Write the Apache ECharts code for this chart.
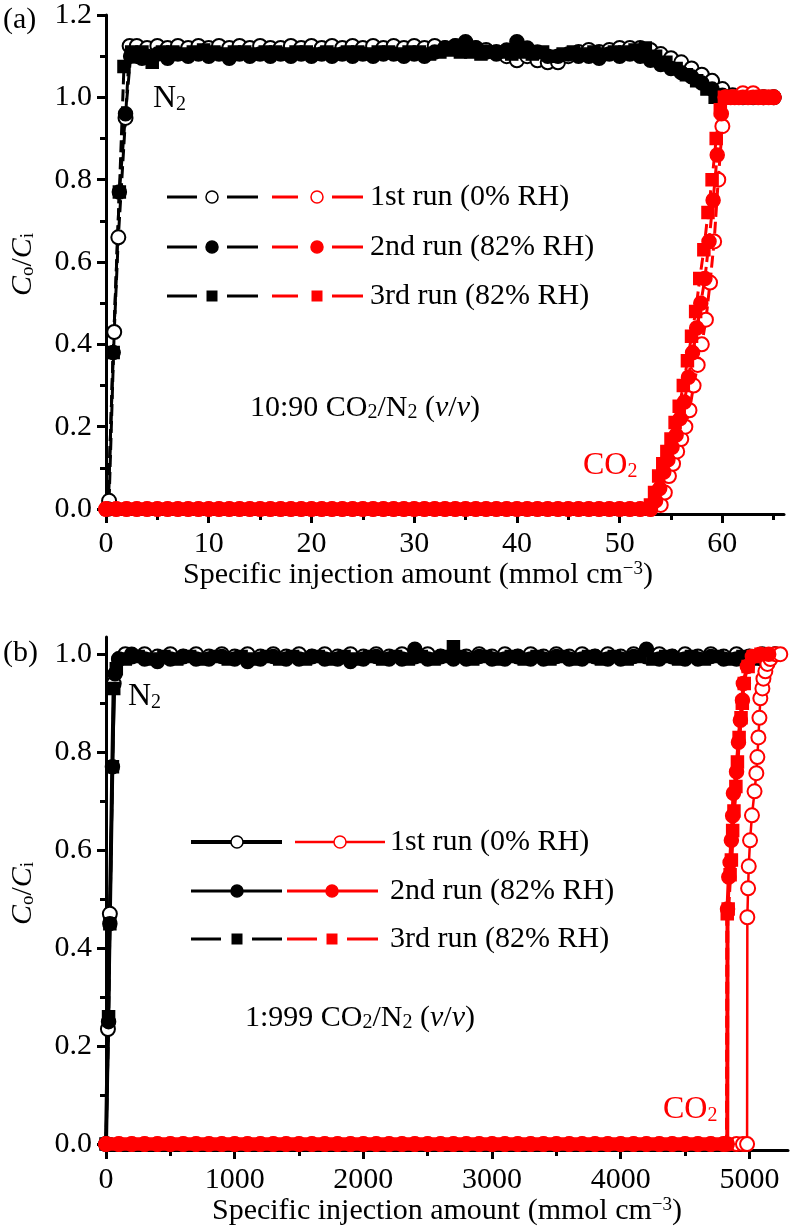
<!DOCTYPE html>
<html><head><meta charset="utf-8">
<script src="https://cdn.jsdelivr.net/npm/echarts@6/dist/echarts.min.js"></script>
<style>html,body{margin:0;padding:0;background:#fff}#c{width:794px;height:1232px}</style>
</head><body><div id="c"></div>
<script>
// ---------- Tick values ----------
const xTicksA = [0, 10, 20, 30, 40, 50, 60];
const xMinorA = [5, 15, 25, 35, 45, 55, 65];
const yTicksA = [0, 0.2, 0.4, 0.6, 0.8, 1.0, 1.2];
const yMinorA = [0.1, 0.3, 0.5, 0.7, 0.9, 1.1];
const xTicksB = [0, 1000, 2000, 3000, 4000, 5000];
const xMinorB = [500, 1500, 2500, 3500, 4500];
const yTicksB = [0, 0.2, 0.4, 0.6, 0.8, 1.0];
const yMinorB = [0.1, 0.3, 0.5, 0.7, 0.9];

const legendLabels = ['1st run (0% RH)', '2nd run (82% RH)', '3rd run (82% RH)'];

// ---------- Panel (a): 10:90 CO2/N2 ----------
const aN2run1 = [[0.3,0.02],[0.8,0.43],[1.2,0.66],[1.9,0.95],[2.3,1.125],[3,1.125],[4,1.12],[5,1.125],[6,1.12],[7,1.125],[8,1.12],[9,1.125],[10,1.12],[11,1.125],[12,1.12],[13,1.125],[14,1.12],[15,1.125],[16,1.12],[17,1.12],[18,1.125],[19,1.12],[20,1.125],[21,1.12],[22,1.125],[23,1.12],[24,1.125],[25,1.12],[26,1.125],[27,1.12],[28,1.125],[29,1.12],[30,1.125],[31,1.12],[32,1.125],[33,1.12],[34,1.125],[35,1.12],[36,1.12],[37,1.115],[38,1.11],[39,1.10],[40,1.09],[41,1.10],[42,1.09],[43,1.085],[44,1.085],[45,1.10],[46,1.11],[47,1.115],[48,1.11],[49,1.115],[50,1.12],[51,1.12],[52,1.12],[53,1.115],[54,1.105],[55,1.095],[56,1.085],[57,1.07],[58,1.055],[59,1.04],[60,1.02],[61,1.005],[62,1.0],[63,1.0],[64,1.0],[65,1.0]];
const aN2run2 = [[0.2,0],[0.7,0.38],[1.3,0.77],[1.9,0.96],[2.4,1.10],[3,1.10],[3.5,1.095],[4,1.10],[5,1.105],[6,1.095],[7,1.105],[8,1.10],[9,1.105],[10,1.10],[11,1.105],[12,1.095],[13,1.105],[14,1.10],[15,1.105],[16,1.10],[17,1.105],[18,1.10],[19,1.105],[20,1.10],[21,1.105],[22,1.10],[23,1.105],[24,1.10],[25,1.105],[26,1.10],[27,1.105],[28,1.105],[29,1.10],[30,1.105],[31,1.10],[32,1.11],[33,1.12],[34,1.125],[35,1.135],[36,1.12],[37,1.11],[38,1.105],[39,1.115],[40,1.135],[41,1.12],[42,1.11],[43,1.10],[44,1.10],[45,1.105],[46,1.10],[47,1.10],[48,1.095],[49,1.105],[50,1.10],[51,1.105],[52,1.10],[53,1.09],[54,1.08],[55,1.07],[56,1.06],[57,1.05],[58,1.035],[59,1.02],[60,1.005],[61,1.0],[62,1.0],[63,1.0],[64,1.0],[65,1.0]];
const aN2run3 = [[0.2,0],[0.7,0.38],[1.3,0.77],[1.75,1.075],[2.5,1.11],[3.5,1.11],[4.5,1.085],[5.5,1.11],[6.5,1.11],[7.5,1.105],[8.5,1.11],[9.5,1.115],[10.5,1.11],[11.5,1.105],[12.5,1.11],[13.5,1.11],[14.5,1.105],[15.5,1.11],[16.5,1.11],[17.5,1.105],[18.5,1.11],[19.5,1.11],[20.5,1.105],[21.5,1.11],[22.5,1.105],[23.5,1.11],[24.5,1.11],[25.5,1.105],[26.5,1.11],[27.5,1.11],[28.5,1.105],[29.5,1.11],[30.5,1.11],[31.5,1.105],[32.5,1.11],[33.5,1.115],[34.5,1.11],[35.5,1.11],[36.5,1.105],[37.5,1.11],[38.5,1.11],[39.5,1.105],[40.5,1.11],[41.5,1.105],[42.5,1.11],[43.5,1.10],[44.5,1.105],[45.5,1.11],[46.5,1.105],[47.5,1.11],[48.5,1.105],[49.5,1.11],[50.5,1.11],[51.5,1.115],[52.5,1.12],[53.5,1.10],[54.5,1.085],[55.5,1.07],[56.5,1.055],[57.5,1.04],[58.5,1.02],[59.3,1.0],[60.5,1.0],[61.5,1.0],[62.5,1.0],[63.5,1.0],[64.5,1.0]];
const aCO2run1 = [[0,0],[1,0],[2,0],[3,0],[4,0],[5,0],[6,0],[7,0],[8,0],[9,0],[10,0],[11,0],[12,0],[13,0],[14,0],[15,0],[16,0],[17,0],[18,0],[19,0],[20,0],[21,0],[22,0],[23,0],[24,0],[25,0],[26,0],[27,0],[28,0],[29,0],[30,0],[31,0],[32,0],[33,0],[34,0],[35,0],[36,0],[37,0],[38,0],[39,0],[40,0],[41,0],[42,0],[43,0],[44,0],[45,0],[46,0],[47,0],[48,0],[49,0],[50,0],[51,0],[52,0],[53,0],[54.0,0.01],[54.4,0.04],[54.8,0.08],[55.2,0.11],[55.6,0.14],[56.0,0.17],[56.4,0.20],[56.8,0.24],[57.2,0.30],[57.6,0.35],[58.0,0.40],[58.4,0.46],[58.8,0.55],[59.2,0.65],[59.6,0.80],[60.0,0.93],[60.3,1.0],[60.8,1.0],[61.2,1.0],[61.6,1.0],[62,1.01],[62.5,1.0],[63,1.01],[63.5,1.0],[64,1.0],[64.5,1.0],[65,1.0]];
const aCO2run2 = [[0,0],[1,0],[2,0],[3,0],[4,0],[5,0],[6,0],[7,0],[8,0],[9,0],[10,0],[11,0],[12,0],[13,0],[14,0],[15,0],[16,0],[17,0],[18,0],[19,0],[20,0],[21,0],[22,0],[23,0],[24,0],[25,0],[26,0],[27,0],[28,0],[29,0],[30,0],[31,0],[32,0],[33,0],[34,0],[35,0],[36,0],[37,0],[38,0],[39,0],[40,0],[41,0],[42,0],[43,0],[44,0],[45,0],[46,0],[47,0],[48,0],[49,0],[50,0],[51,0],[52,0],[53,0],[53.5,0.02],[53.9,0.05],[54.3,0.09],[54.7,0.12],[55.1,0.15],[55.5,0.18],[55.9,0.22],[56.3,0.26],[56.7,0.32],[57.1,0.38],[57.5,0.44],[57.9,0.50],[58.3,0.56],[58.7,0.65],[59.1,0.75],[59.5,0.86],[59.9,0.96],[60.3,1.0],[61,1.0],[62,1.0],[63,1.0],[64,1.0],[65,1.0]];
const aCO2run3 = [[0.5,0],[1.5,0],[2.5,0],[3.5,0],[4.5,0],[5.5,0],[6.5,0],[7.5,0],[8.5,0],[9.5,0],[10.5,0],[11.5,0],[12.5,0],[13.5,0],[14.5,0],[15.5,0],[16.5,0],[17.5,0],[18.5,0],[19.5,0],[20.5,0],[21.5,0],[22.5,0],[23.5,0],[24.5,0],[25.5,0],[26.5,0],[27.5,0],[28.5,0],[29.5,0],[30.5,0],[31.5,0],[32.5,0],[33.5,0],[34.5,0],[35.5,0],[36.5,0],[37.5,0],[38.5,0],[39.5,0],[40.5,0],[41.5,0],[42.5,0],[43.5,0],[44.5,0],[45.5,0],[46.5,0],[47.5,0],[48.5,0],[49.5,0],[50.5,0],[51.5,0],[52.5,0],[53.0,0.01],[53.4,0.04],[53.8,0.08],[54.2,0.11],[54.6,0.14],[55.0,0.17],[55.4,0.21],[55.8,0.25],[56.2,0.30],[56.6,0.36],[57.0,0.42],[57.4,0.48],[57.8,0.56],[58.2,0.63],[58.6,0.72],[59.0,0.80],[59.4,0.90],[59.8,0.97],[60.2,1.0],[61,1.0],[62,1.0],[63,1.0],[64,1.0]];

// ---------- Panel (b): 1:999 CO2/N2 ----------
const bN2run1 = [[0,0],[15,0.235],[30,0.47],[60,0.94],[100,0.99],[150,1.0],[200,0.995],[300,1.0],[400,0.995],[500,1.0],[600,0.995],[700,1.0],[800,0.995],[900,1.0],[1000,0.995],[1100,1.0],[1200,0.995],[1300,1.0],[1400,0.995],[1500,1.0],[1600,0.995],[1700,1.0],[1800,0.995],[1900,1.0],[2000,0.995],[2100,1.0],[2200,0.995],[2300,1.0],[2400,0.995],[2500,1.0],[2600,0.995],[2700,1.0],[2800,0.995],[2900,1.0],[3000,0.995],[3100,1.0],[3200,0.995],[3300,1.0],[3400,0.995],[3500,1.0],[3600,0.995],[3700,1.0],[3800,0.995],[3900,1.0],[4000,0.995],[4100,1.0],[4200,0.995],[4300,1.0],[4400,0.995],[4500,1.0],[4600,0.995],[4700,1.0],[4800,0.995],[4900,1.0],[5000,0.995],[5100,1.0],[5200,1.0]];
const bN2run2 = [[0,0],[20,0.25],[30,0.45],[50,0.77],[70,0.96],[100,0.99],[200,1.0],[300,0.99],[400,0.985],[500,0.99],[600,0.995],[700,0.99],[800,0.99],[900,0.995],[1000,0.99],[1100,0.985],[1200,0.99],[1300,0.995],[1400,0.99],[1500,0.99],[1600,0.995],[1700,0.99],[1800,0.99],[1900,0.985],[2000,0.99],[2100,0.995],[2200,0.99],[2300,0.99],[2400,1.01],[2500,0.99],[2600,0.995],[2700,0.99],[2800,0.99],[2900,0.995],[3000,0.99],[3100,0.99],[3200,0.995],[3300,0.99],[3400,0.99],[3500,0.995],[3600,0.99],[3700,0.99],[3800,0.995],[3900,0.99],[4000,0.99],[4100,0.995],[4200,1.01],[4300,0.99],[4400,0.995],[4500,0.99],[4600,0.99],[4700,0.995],[4800,0.99],[4900,0.99],[5000,0.995],[5100,0.99],[5200,1.0]];
const bN2run3 = [[0,0],[20,0.26],[30,0.45],[50,0.77],[60,0.93],[80,0.97],[150,0.99],[250,0.995],[350,0.99],[450,0.995],[550,0.99],[650,0.995],[750,0.99],[850,0.995],[950,0.99],[1050,0.995],[1150,0.99],[1250,0.995],[1350,0.99],[1450,0.995],[1550,0.99],[1650,0.995],[1750,0.99],[1850,0.995],[1950,0.99],[2050,0.995],[2150,0.99],[2250,0.995],[2350,0.99],[2450,0.995],[2550,0.99],[2650,0.995],[2700,1.015],[2750,0.995],[2850,0.99],[2950,0.995],[3050,0.99],[3150,0.995],[3250,0.99],[3350,0.995],[3450,0.99],[3550,0.995],[3650,0.99],[3750,0.995],[3850,0.99],[3950,0.995],[4050,0.99],[4150,0.995],[4250,0.99],[4350,0.995],[4450,0.99],[4550,0.995],[4650,0.99],[4750,0.995],[4850,0.99],[4950,0.995],[5050,0.99],[5150,0.995],[5220,1.0]];
const bCO2run1 = [[0,0],[100,0],[200,0],[300,0],[400,0],[500,0],[600,0],[700,0],[800,0],[900,0],[1000,0],[1100,0],[1200,0],[1300,0],[1400,0],[1500,0],[1600,0],[1700,0],[1800,0],[1900,0],[2000,0],[2100,0],[2200,0],[2300,0],[2400,0],[2500,0],[2600,0],[2700,0],[2800,0],[2900,0],[3000,0],[3100,0],[3200,0],[3300,0],[3400,0],[3500,0],[3600,0],[3700,0],[3800,0],[3900,0],[4000,0],[4100,0],[4200,0],[4300,0],[4400,0],[4500,0],[4600,0],[4700,0],[4800,0],[4900,0],[4950,0],[4982,0],[4984,0.463],[4990,0.522],[4995,0.567],[5005,0.62],[5020,0.671],[5040,0.72],[5054,0.757],[5062,0.79],[5070,0.83],[5078,0.87],[5085,0.91],[5101,0.93],[5109,0.95],[5124,0.965],[5140,0.98],[5163,0.99],[5202,1.0],[5240,1.0]];
const bCO2run2 = [[0,0],[100,0],[200,0],[300,0],[400,0],[500,0],[600,0],[700,0],[800,0],[900,0],[1000,0],[1100,0],[1200,0],[1300,0],[1400,0],[1500,0],[1600,0],[1700,0],[1800,0],[1900,0],[2000,0],[2100,0],[2200,0],[2300,0],[2400,0],[2500,0],[2600,0],[2700,0],[2800,0],[2900,0],[3000,0],[3100,0],[3200,0],[3300,0],[3400,0],[3500,0],[3600,0],[3700,0],[3800,0],[3900,0],[4000,0],[4100,0],[4200,0],[4300,0],[4400,0],[4500,0],[4600,0],[4700,0],[4800,0],[4828,0],[4830,0.48],[4840,0.545],[4850,0.575],[4860,0.62],[4870,0.67],[4876,0.716],[4900,0.76],[4915,0.82],[4930,0.865],[4946,0.906],[4953,0.94],[4984,0.975],[5023,0.995],[5085,1.0],[5150,1.0]];
const bCO2run3 = [[50,0],[150,0],[250,0],[350,0],[450,0],[550,0],[650,0],[750,0],[850,0],[950,0],[1050,0],[1150,0],[1250,0],[1350,0],[1450,0],[1550,0],[1650,0],[1750,0],[1850,0],[1950,0],[2050,0],[2150,0],[2250,0],[2350,0],[2450,0],[2550,0],[2650,0],[2750,0],[2850,0],[2950,0],[3050,0],[3150,0],[3250,0],[3350,0],[3450,0],[3550,0],[3650,0],[3750,0],[3850,0],[3950,0],[4050,0],[4150,0],[4250,0],[4350,0],[4450,0],[4550,0],[4650,0],[4750,0],[4826,0],[4828,0.47],[4835,0.48],[4850,0.55],[4860,0.58],[4870,0.64],[4880,0.68],[4895,0.73],[4907,0.78],[4920,0.83],[4935,0.87],[4945,0.90],[4960,0.94],[4990,0.975],[5030,0.995],[5090,1.0]];

const FONT = 'Liberation Serif';
const BLACK = '#000000';
const RED = '#ff0000';

function mainX(grid, min, max, ticks, name, shift) {
  return {
    type: 'value', gridIndex: grid, min: min, max: max, position: 'bottom',
    axisLine: { onZero: false, lineStyle: { color: BLACK, width: 3 } },
    axisTick: { show: true, inside: false, length: 9, customValues: ticks, lineStyle: { color: BLACK, width: 3 } },
    axisLabel: { customValues: ticks, margin: 15, color: BLACK, fontFamily: FONT, fontSize: 30, formatter: v => String(v) },
    splitLine: { show: false },
    name: name, nameLocation: 'middle', nameGap: 43,
    nameTextStyle: { color: BLACK, fontFamily: FONT, fontSize: 30, padding: [0, shift, 0, 0],
      rich: { sup: { fontFamily: FONT, fontSize: 19, verticalAlign: 'top', color: BLACK } } }
  };
}
function minorX(grid, min, max, ticks) {
  return {
    type: 'value', gridIndex: grid, min: min, max: max, position: 'bottom',
    axisLine: { show: false, onZero: false },
    axisTick: { show: true, inside: false, length: 6, customValues: ticks, lineStyle: { color: BLACK, width: 3 } },
    axisLabel: { show: false }, splitLine: { show: false }
  };
}
function mainY(grid, min, max, ticks, name) {
  return {
    type: 'value', gridIndex: grid, min: min, max: max, position: 'left',
    axisLine: { onZero: false, lineStyle: { color: BLACK, width: 3 } },
    axisTick: { show: true, inside: false, length: 9, customValues: ticks, lineStyle: { color: BLACK, width: 3 } },
    axisLabel: { customValues: ticks, margin: 14, color: BLACK, fontFamily: FONT, fontSize: 30,
      formatter: v => Number(v).toFixed(1) },
    splitLine: { show: false },
    name: name, nameLocation: 'middle', nameGap: 68,
    nameTextStyle: { color: BLACK, fontFamily: FONT, fontSize: 30,
      rich: {
        i: { fontFamily: FONT, fontSize: 30, fontStyle: 'italic', color: BLACK },
        n: { fontFamily: FONT, fontSize: 30, color: BLACK },
        sub: { fontFamily: FONT, fontSize: 19, verticalAlign: 'bottom', color: BLACK }
      } }
  };
}
function minorY(grid, min, max, ticks) {
  return {
    type: 'value', gridIndex: grid, min: min, max: max, position: 'left',
    axisLine: { show: false, onZero: false },
    axisTick: { show: true, inside: false, length: 6, customValues: ticks, lineStyle: { color: BLACK, width: 3 } },
    axisLabel: { show: false }, splitLine: { show: false }
  };
}

function ser(data, xi, yi, color, symbol, lineType, lineWidth, z) {
  return {
    type: 'line', data: data, xAxisIndex: xi, yAxisIndex: yi,
    symbol: symbol, symbolSize: symbol === 'rect' ? 12 : 14, showSymbol: true,
    clip: false, silent: true, z: z, animation: false,
    lineStyle: { color: color, width: lineWidth, type: lineType },
    itemStyle: { color: color, borderColor: color, borderWidth: 1.5 },
    emphasis: { disabled: true }
  };
}

const xName = 'Specific injection amount (mmol cm{sup|\u22123})';
const yName = '{i|C}{sub|o}{n|/}{i|C}{sub|i}';
const DASH = [12, 5];

const chart = echarts.init(document.getElementById('c'), null, { renderer: 'canvas' });

function txt(x, y, text, color, size, rich) {
  return { type: 'text', x: x, y: y, silent: true, z: 100,
    style: { text: text, fill: color, font: size + 'px "' + FONT + '"', verticalAlign: 'middle', align: 'left', rich: rich || {} } };
}
const subRich = (color) => ({
  s: { fontFamily: FONT, fontSize: 20, verticalAlign: 'bottom', fill: color, color: color },
  it: { fontFamily: FONT, fontSize: 30, fontStyle: 'italic', fill: color, color: color }
});
function seg(x1, x2, y, color, w) {
  return { type: 'line', silent: true, z: 100, shape: { x1: x1, y1: y, x2: x2, y2: y }, style: { stroke: color, lineWidth: w } };
}
function mark(cx, cy, kind, color) {
  if (kind === 'rect') return { type: 'rect', silent: true, z: 101, shape: { x: cx - 5.5, y: cy - 5.5, width: 11, height: 11 }, style: { fill: color } };
  return { type: 'circle', silent: true, z: 101, shape: { cx: cx, cy: cy, r: 6 },
    style: { fill: kind === 'empty' ? '#fff' : color, stroke: color, lineWidth: 1.5 } };
}

const graphics = [];
graphics.push(txt(3, 20, '(a)', BLACK, 30));
graphics.push(txt(3, 653, '(b)', BLACK, 30));
graphics.push(txt(153, 99, 'N{s|2}', BLACK, 32, subRich(BLACK)));
graphics.push(txt(128, 697, 'N{s|2}', BLACK, 32, subRich(BLACK)));
graphics.push(txt(583, 466, 'CO{s|2}', RED, 32, subRich(RED)));
graphics.push(txt(663, 1110, 'CO{s|2}', RED, 32, subRich(RED)));
graphics.push(txt(250, 408, '10:90 CO{s|2}/N{s|2} ({it|v}/{it|v})', BLACK, 30, subRich(BLACK)));
graphics.push(txt(245, 1018, '1:999 CO{s|2}/N{s|2} ({it|v}/{it|v})', BLACK, 30, subRich(BLACK)));

const kinds = ['empty', 'fill', 'rect'];
const rowsA = [197, 247, 296];
rowsA.forEach((y, i) => {
  graphics.push(seg(167, 197, y, BLACK, 3), mark(212, y, kinds[i], BLACK), seg(227, 258, y, BLACK, 3));
  graphics.push(seg(272, 298, y, RED, 3), mark(317, y, kinds[i], RED), seg(332, 363, y, RED, 3));
  graphics.push(txt(370, y, legendLabels[i], BLACK, 30));
});
const rowsB = [842, 891, 939];
graphics.push(seg(191, 282, rowsB[0], BLACK, 4), mark(237, rowsB[0], 'empty', BLACK));
graphics.push(seg(295, 385, rowsB[0], RED, 2.5), mark(340, rowsB[0], 'empty', RED));
graphics.push(seg(191, 282, rowsB[1], BLACK, 3), mark(237, rowsB[1], 'fill', BLACK));
graphics.push(seg(287, 378, rowsB[1], RED, 3), mark(332, rowsB[1], 'fill', RED));
graphics.push(seg(191, 221, rowsB[2], BLACK, 3), mark(237, rowsB[2], 'rect', BLACK), seg(252, 282, rowsB[2], BLACK, 3));
graphics.push(seg(287, 317, rowsB[2], RED, 3), mark(332, rowsB[2], 'rect', RED), seg(347, 378, rowsB[2], RED, 3));
rowsB.forEach((y, i) => graphics.push(txt(390, y, legendLabels[i], BLACK, 30)));

const option = {
  animation: false,
  backgroundColor: '#ffffff',
  grid: [
    { left: 106, top: 15, width: 678, height: 499 },
    { left: 104, top: 637, width: 684, height: 513 }
  ],
  xAxis: [
    mainX(0, 0, 66, xTicksA, xName, 54), minorX(0, 0, 66, xMinorA),
    mainX(1, 0, 5300, xTicksB, xName, 0), minorX(1, 0, 5300, xMinorB)
  ],
  yAxis: [
    mainY(0, -0.012, 1.2, yTicksA, yName), minorY(0, -0.012, 1.2, yMinorA),
    mainY(1, -0.012, 1.035, yTicksB, yName), minorY(1, -0.012, 1.035, yMinorB)
  ],
  series: [
    ser(aN2run1, 0, 0, BLACK, 'emptyCircle', DASH, 3, 3),
    ser(aN2run2, 0, 0, BLACK, 'circle', DASH, 3, 3),
    ser(aN2run3, 0, 0, BLACK, 'rect', DASH, 3, 3),
    ser(aCO2run1, 0, 0, RED, 'emptyCircle', DASH, 3, 5),
    ser(aCO2run2, 0, 0, RED, 'circle', DASH, 3, 5),
    ser(aCO2run3, 0, 0, RED, 'rect', DASH, 3, 5),
    ser(bN2run1, 2, 2, BLACK, 'emptyCircle', 'solid', 4, 3),
    ser(bN2run2, 2, 2, BLACK, 'circle', 'solid', 3, 3),
    ser(bN2run3, 2, 2, BLACK, 'rect', DASH, 3, 3),
    ser(bCO2run1, 2, 2, RED, 'emptyCircle', 'solid', 2.5, 5),
    ser(bCO2run2, 2, 2, RED, 'circle', 'solid', 4, 5),
    ser(bCO2run3, 2, 2, RED, 'rect', DASH, 4, 5)
  ],
  graphic: graphics
};
chart.setOption(option);
</script>
</body></html>
